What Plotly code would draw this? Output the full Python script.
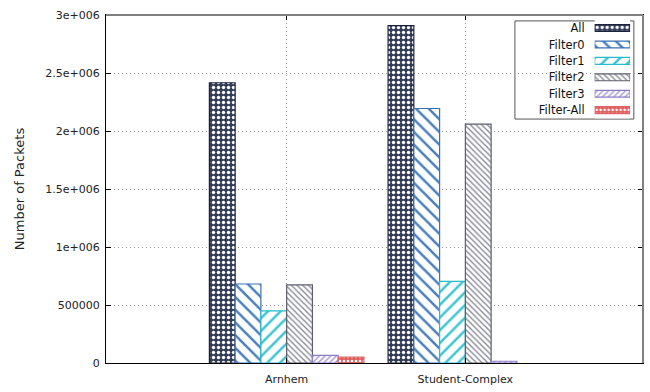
import plotly.graph_objects as go

# Traffic captures and packet counts per filter
datasets = ["Arnhem", "Student-Complex"]
series_names = ["All", "Filter0", "Filter1", "Filter2", "Filter3", "Filter-All"]
all_pkts = [2416000, 2908000]
filter0_pkts = [681000, 2194000]
filter1_pkts = [450000, 703000]
filter2_pkts = [673000, 2060000]
filter3_pkts = [65000, 15000]
filter_all_pkts = [51000, None]

y_tickvals = [0, 500000, 1000000, 1500000, 2000000, 2500000, 3000000]
y_ticktext = ["0", "500000", "1e+006", "1.5e+006", "2e+006", "2.5e+006", "3e+006"]

values = [all_pkts, filter0_pkts, filter1_pkts, filter2_pkts, filter3_pkts, filter_all_pkts]

# fill style per series: (marker colour, outline, pattern shape, pattern colour, size, solidity)
styles = [
    ("#333d58", "#1a2238", ".", "#ffffff", 5, 0.36),
    ("#ffffff", "#3a72b2", "\\", "#4a80bd", 9, 0.28),
    ("#ffffff", "#25bccb", "/", "#3cc4d2", 9, 0.28),
    ("#ffffff", "#5e5e6c", "\\", "#8c8c98", 4, 0.36),
    ("#ffffff", "#8c7cc8", "/", "#a696d8", 4, 0.36),
    ("#e05a5a", "#e06464", ".", "#ffffff", 4, 0.36),
]

FONT = "DejaVu Sans"
TXT = "#222222"
GRID = "#9a9a9a"

fig = go.Figure()

for name, vals, st in zip(series_names, values, styles):
    color, outline, shape, fg, size, sol = st
    fig.add_trace(go.Bar(
        x=datasets, y=vals, name=name, showlegend=False,
        marker=dict(color=color, line=dict(color=outline, width=1.2),
                    pattern=dict(shape=shape, fgcolor=fg, fgopacity=1,
                                 size=size, solidity=sol)),
        hoverinfo="skip",
    ))

# key drawn as small horizontal bars on their own axes, labels to the left
for name, st in zip(series_names, styles):
    color, outline, shape, fg, size, sol = st
    fig.add_trace(go.Bar(
        x=[1], y=[name], orientation="h", xaxis="x2", yaxis="y2",
        width=0.42, offset=-0.21, showlegend=False,
        marker=dict(color=color, line=dict(color=outline, width=1.2),
                    pattern=dict(shape=shape, fgcolor=fg, fgopacity=1,
                                 size=size, solidity=sol)),
        hoverinfo="skip",
    ))

fig.update_layout(
    width=650, height=392,
    margin=dict(l=106, r=6, t=15, b=26),
    paper_bgcolor="white", plot_bgcolor="white",
    barmode="group", bargap=0.135, bargroupgap=0,
    font=dict(family=FONT, size=11, color=TXT),
    xaxis=dict(
        type="category", range=[-1.011, 1.994],
        showgrid=True, gridcolor=GRID, griddash="1px,3px", gridwidth=1,
        ticks="inside", ticklen=5, tickcolor="black",
        showline=True, linecolor="black", linewidth=1, mirror="ticks",
        ticklabelstandoff=6,
        tickfont=dict(family=FONT, size=11, color=TXT),
    ),
    yaxis=dict(
        range=[0, 3000000], tickvals=y_tickvals, ticktext=y_ticktext,
        showgrid=True, gridcolor=GRID, griddash="1px,3px", gridwidth=1,
        zeroline=False,
        ticks="inside", ticklen=5, tickcolor="black",
        showline=True, linecolor="black", linewidth=1, mirror="ticks",
        ticklabelstandoff=3,
        tickfont=dict(family=FONT, size=11, color=TXT),
        title=dict(text="Number of Packets", standoff=17,
                   font=dict(family=FONT, size=13, color=TXT)),
    ),
    xaxis2=dict(domain=[0.910, 0.976], range=[0, 1], anchor="y2",
                showgrid=False, zeroline=False, showticklabels=False,
                showline=False, fixedrange=True),
    yaxis2=dict(domain=[0.703, 0.986], anchor="x2", type="category",
                categoryarray=series_names, range=[5.5, -0.5],
                showgrid=False, zeroline=False, showline=False, ticks="",
                ticklabelstandoff=9,
                tickfont=dict(family=FONT, size=11.5, color="#111111")),
    shapes=[
        # key frame
        dict(type="rect", xref="paper", yref="paper",
             x0=0.7615, x1=0.983, y0=0.701, y1=0.983,
             line=dict(color="#555555", width=1), fillcolor="white", layer="between"),
        # top and right border in grey
        dict(type="line", xref="paper", yref="paper", x0=0, x1=1, y0=1, y1=1,
             line=dict(color="#808080", width=2), layer="above"),
        dict(type="line", xref="paper", yref="paper", x0=1, x1=1, y0=0, y1=1,
             line=dict(color="#808080", width=2), layer="above"),
    ],
)

fig.write_html("out.html")
